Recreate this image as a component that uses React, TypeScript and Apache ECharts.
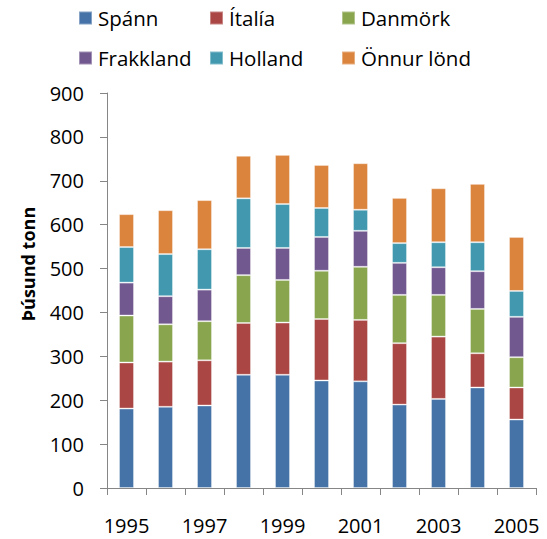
import React, { useEffect, useRef } from "react";
import * as echarts from "echarts";

const years = ["1995", "1996", "1997", "1998", "1999", "2000", "2001", "2002", "2003", "2004", "2005"];
const spann = [181, 185, 188, 258, 258, 245, 243, 190, 203, 229, 156];
const italia = [105, 103, 103, 118, 119, 140, 140, 140, 142, 78, 73];
const danmork = [107, 85, 89, 109, 97, 110, 121, 110, 95, 101, 69];
const frakkland = [75, 64, 72, 62, 73, 77, 82, 73, 63, 86, 92];
const holland = [81, 96, 92, 113, 100, 66, 48, 45, 57, 66, 59];
const onnur = [75, 100, 112, 97, 112, 98, 106, 103, 123, 133, 123];

const seriesNames = ["Spánn", "Ítalía", "Danmörk", "Frakkland", "Holland", "Önnur lönd"];
const seriesData = [spann, italia, danmork, frakkland, holland, onnur];
const colors = ["#4572A7", "#AA4643", "#89A54E", "#71588F", "#4198AF", "#DB843D"];
const yTicks = { min: 0, max: 900, interval: 100 };

const FONT = "'Open Sans', 'Noto Sans', sans-serif";

export default function App() {
  const ref = useRef<HTMLDivElement>(null);
  useEffect(() => {
    if (!ref.current) return;
    const chart = echarts.init(ref.current, null, { renderer: "svg" });
    const legendPos = [
      [78, 7], [209, 7], [341, 7],
      [78, 47], [209, 47], [341, 47],
    ];
    chart.setOption({
      animation: false,
      color: colors,
      textStyle: { fontFamily: FONT },
      legend: seriesNames.map((n, i) => ({
        data: [n],
        left: legendPos[i][0],
        top: legendPos[i][1],
        padding: 0,
        itemWidth: 13,
        itemHeight: 13,
        itemGap: 6,
        icon: "rect",
        selectedMode: false,
        textStyle: { fontSize: 20.5, color: "#000", fontFamily: FONT, lineHeight: 22, padding: [0, 0, 0, 1] },
      })),
      grid: { left: 107, right: 11, top: 93, bottom: 51, containLabel: false },
      xAxis: {
        type: "category",
        data: years,
        boundaryGap: true,
        axisLine: { lineStyle: { color: "#868686", width: 1 } },
        axisTick: { show: true, interval: 0, length: 7, alignWithLabel: false, lineStyle: { color: "#868686" } },
        axisLabel: { interval: 1, fontSize: 20, color: "#000", margin: 27, fontFamily: FONT },
      },
      yAxis: {
        type: "value",
        min: yTicks.min,
        max: yTicks.max,
        interval: yTicks.interval,
        axisLine: { show: true, lineStyle: { color: "#868686", width: 1 } },
        axisTick: { show: true, length: 7, lineStyle: { color: "#868686" } },
        axisLabel: { fontSize: 20, color: "#000", margin: 23, fontFamily: FONT },
        splitLine: { show: false },
      },
      graphic: [
        {
          type: "text",
          x: 28,
          y: 264,
          rotation: Math.PI / 2,
          style: {
            text: "Þúsund tonn",
            fontSize: 18,
            fontWeight: "bold",
            fill: "#000",
            fontFamily: FONT,
            textAlign: "center",
            textVerticalAlign: "middle",
          },
        },
      ],
      series: seriesNames.map((n, i) => ({
        name: n,
        type: "bar",
        stack: "total",
        barWidth: 15,
        data: seriesData[i],
        itemStyle: { color: colors[i], borderColor: "rgba(255,255,255,0.35)", borderWidth: 1 },
      })),
    });
    return () => chart.dispose();
  }, []);
  return <div ref={ref} style={{ width: 547, height: 539, position: "absolute", left: 0, top: 0 }} />;
}
